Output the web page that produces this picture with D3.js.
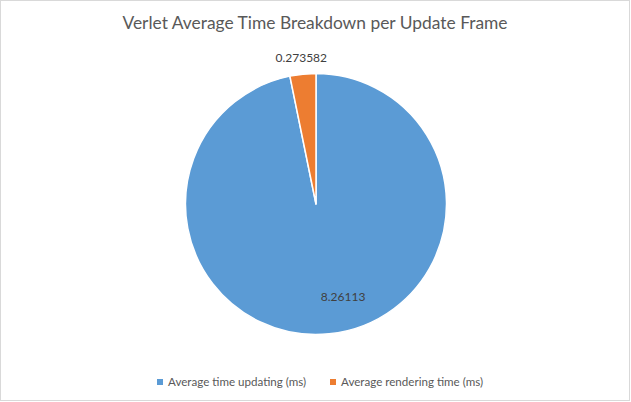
<!DOCTYPE html>
<html><head><meta charset="utf-8">
<script src="https://cdn.jsdelivr.net/npm/d3@7"></script>
<style>html,body{margin:0;padding:0;background:#fff;}svg{display:block;}</style>
</head><body>
<script>
const categories = ["Average time updating (ms)", "Average rendering time (ms)"];
const values = [8.26113, 0.273582];
const valueLabels = ["8.26113", "0.273582"];
const colors = ["#5B9BD5", "#ED7D31"];
const title = "Verlet Average Time Breakdown per Update Frame";

const W = 631, H = 402;
const cx = 316, cy = 204, R = 130.5;
const svg = d3.select("body").append("svg").attr("width", W).attr("height", H);
svg.append("rect").attr("x", 0.5).attr("y", 0.5).attr("width", 629).attr("height", 400)
  .attr("fill", "#fff").attr("stroke", "#d9d9d9").attr("stroke-width", 1);

svg.append("text").attr("x", 315).attr("y", 29).attr("text-anchor", "middle")
  .attr("font-family", "Lato, 'Open Sans', sans-serif").attr("font-size", 17.4)
  .attr("fill", "#595959").text(title);

const pie = d3.pie().sort(null).value(d => d)(values);
const arc = d3.arc().innerRadius(0).outerRadius(R);
const g = svg.append("g").attr("transform", `translate(${cx},${cy})`);
g.selectAll("path").data(pie).join("path")
  .attr("d", arc).attr("fill", (d, i) => colors[i])
  .attr("stroke", "#fff").attr("stroke-width", 1.5).attr("stroke-linejoin", "round");

// labels: blue inside (best fit), orange outside end
pie.forEach((d, i) => {
  let ang, r;
  if (i === 0) { ang = d.startAngle + (d.endAngle - d.startAngle) * 0.47; r = 97; }
  else { ang = (d.startAngle + d.endAngle) / 2; r = 147; }
  const x = Math.sin(ang) * r, y = -Math.cos(ang) * r;
  g.append("text").attr("x", x).attr("y", y).attr("dy", "0.35em")
    .attr("text-anchor", "middle").attr("font-family", "Lato, 'Open Sans', sans-serif")
    .attr("font-size", 12).attr("fill", "#404040").text(valueLabels[i]);
});

// legend
const legendX = [157, 330];
const lg = svg.append("g");
categories.forEach((c, i) => {
  lg.append("rect").attr("x", legendX[i]).attr("y", 379).attr("width", 6).attr("height", 6).attr("fill", colors[i]);
  lg.append("text").attr("x", legendX[i] + 11).attr("y", 382).attr("dy", "0.35em")
    .attr("font-family", "Lato, 'Open Sans', sans-serif").attr("font-size", 11.6)
    .attr("fill", "#595959").text(c);
});
</script>
</body></html>
